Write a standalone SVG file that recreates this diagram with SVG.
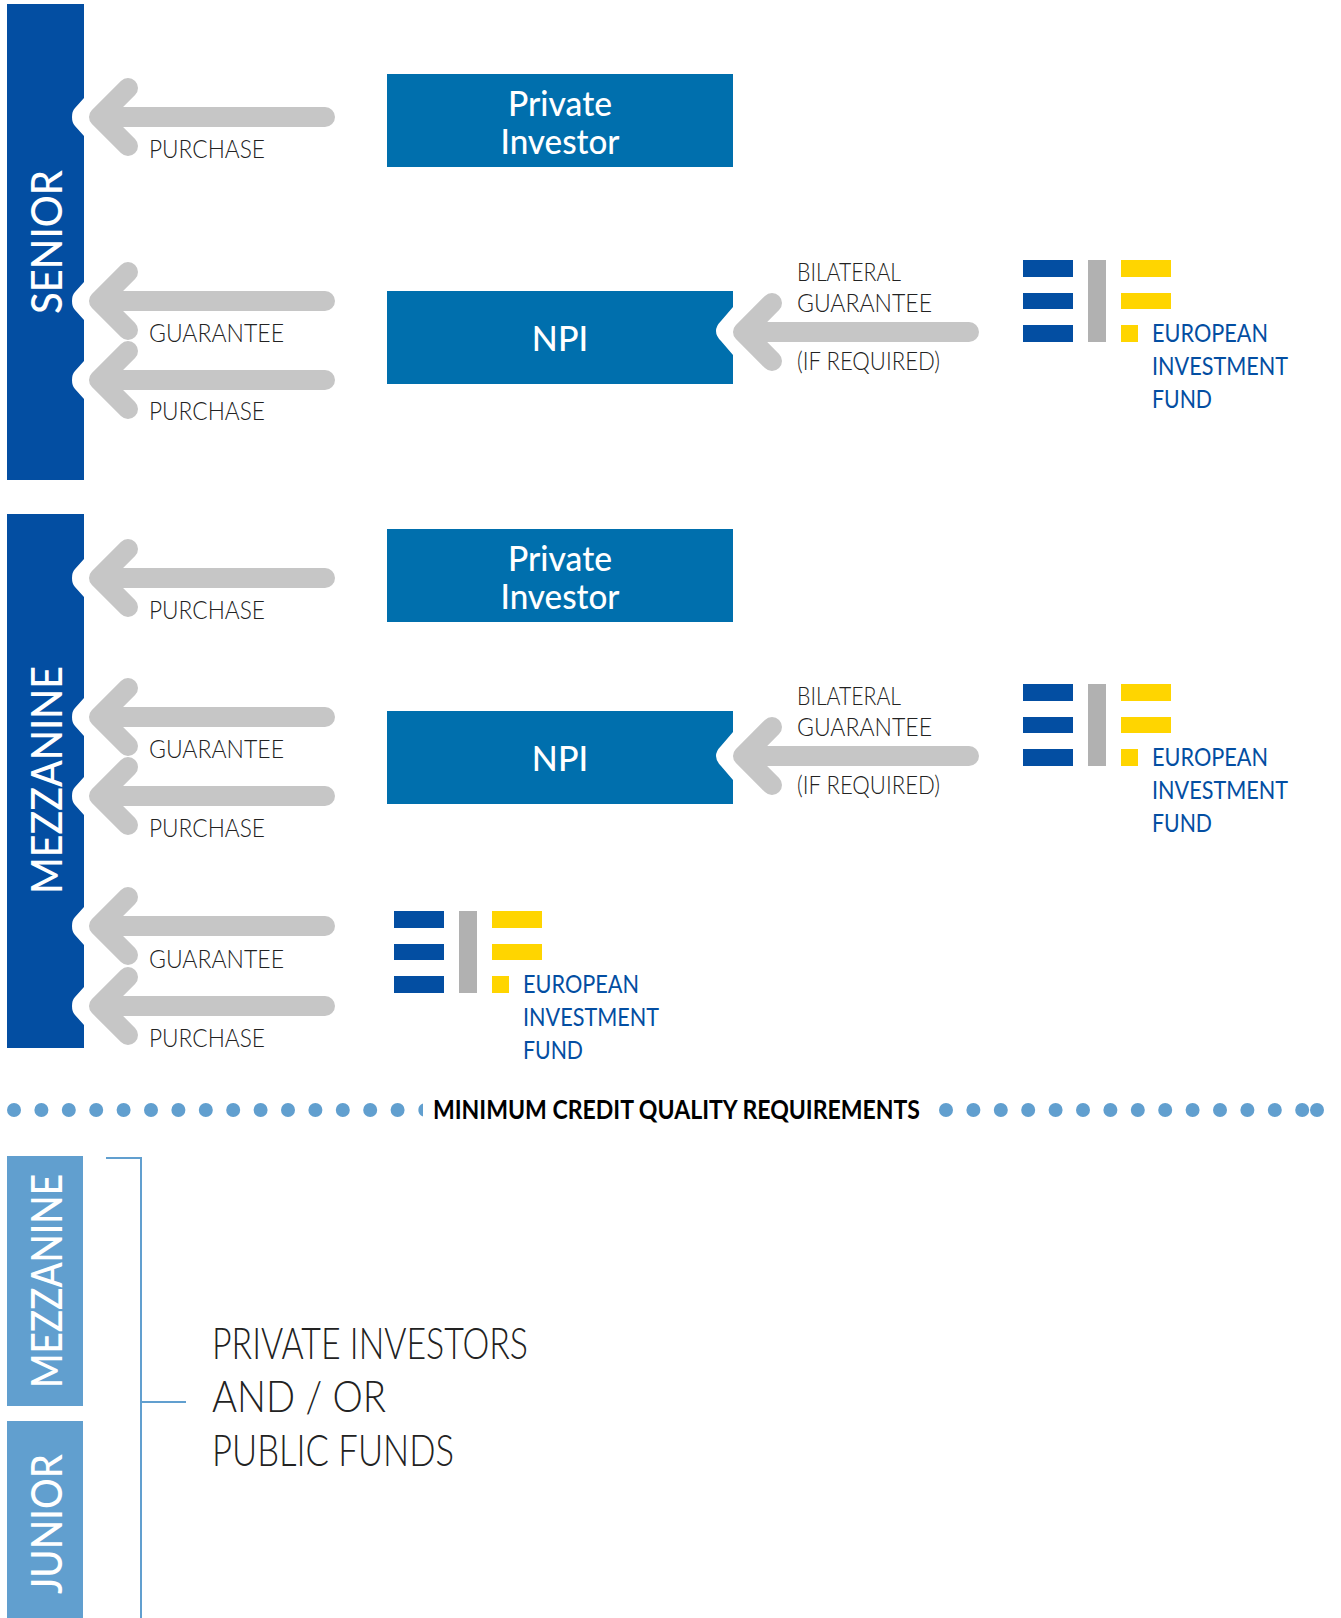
<svg xmlns="http://www.w3.org/2000/svg" width="1341" height="1618" viewBox="0 0 1341 1618">
<style>
text{font-family:"Lato","Liberation Sans",sans-serif}
.tier{fill:#034EA2}.tierl{fill:#619FCF}
.box{fill:#006FAD}
.side{fill:#fff;font-size:43px;font-weight:500}
.nt{fill:#fff;font-size:34px;font-weight:500;text-anchor:middle}
.lb{fill:#222;font-size:26px;font-weight:300}
.ef{fill:#034EA2;font-size:25px;font-weight:400}
.big{fill:#222;font-size:44px;font-weight:300}
.min{fill:#000;font-size:26px;font-weight:700}
.arr{fill:none;stroke:#C6C6C6;stroke-width:20;stroke-linecap:round;stroke-linejoin:round}
.notch{fill:#fff}
.dot{fill:#619FCF}
.br{fill:none;stroke:#619FCF;stroke-width:2}
.b{fill:#034EA2}.g{fill:#B1B1B1}.y{fill:#FFD500}
</style>
<defs>
<g id="arrow"><path class="arr" d="M325 0H99M128 -29L99 0L128 29"/></g>
<path id="n" d="M12 -19L3 -9Q0 -6 0 0Q0 6 3 9L12 19Z" class="notch"/>
<path id="nr" d="M17 -24L5 -10Q0 -5 0 0Q0 5 5 10L17 24Z" class="notch"/>
<g id="eif">
<rect class="b" x="0" y="0" width="50" height="17"/><rect class="b" x="0" y="33" width="50" height="16"/><rect class="b" x="0" y="65" width="50" height="17"/>
<rect class="g" x="65" y="0" width="18" height="82"/>
<rect class="y" x="98" y="0" width="50" height="17"/><rect class="y" x="98" y="33" width="50" height="16"/><rect class="y" x="98" y="65" width="17" height="17"/>
<text class="ef" x="129" y="82" textLength="116" lengthAdjust="spacingAndGlyphs">EUROPEAN</text>
<text class="ef" x="129" y="115" textLength="136" lengthAdjust="spacingAndGlyphs">INVESTMENT</text>
<text class="ef" x="129" y="148" textLength="60" lengthAdjust="spacingAndGlyphs">FUND</text>
</g>
</defs>
<rect width="1341" height="1618" fill="#fff"/>
<g id="senior"><rect class="tier" x="7" y="4" width="77" height="476"/>
<use href="#n" x="72" y="117"/><use href="#n" x="72" y="301"/><use href="#n" x="72" y="380"/>
<text class="side" transform="translate(62 314) rotate(-90)" textLength="144" lengthAdjust="spacingAndGlyphs">SENIOR</text></g>
<g id="mezzanine"><rect class="tier" x="7" y="514" width="77" height="534"/>
<use href="#n" x="72" y="578"/><use href="#n" x="72" y="717"/><use href="#n" x="72" y="796"/><use href="#n" x="72" y="926"/><use href="#n" x="72" y="1006"/>
<text class="side" transform="translate(62 894) rotate(-90)" textLength="228" lengthAdjust="spacingAndGlyphs">MEZZANINE</text></g>
<g id="pi1"><rect class="box" x="387" y="74" width="346" height="93"/><text class="nt" x="560" y="116" textLength="104" lengthAdjust="spacingAndGlyphs">Private</text><text class="nt" x="560" y="154" textLength="119" lengthAdjust="spacingAndGlyphs">Investor</text></g>
<g id="npi1"><rect class="box" x="387" y="291" width="346" height="93"/><use href="#nr" x="716" y="331"/><text class="nt" x="560" y="351">NPI</text></g>
<g id="pi2"><rect class="box" x="387" y="529" width="346" height="93"/><text class="nt" x="560" y="571" textLength="104" lengthAdjust="spacingAndGlyphs">Private</text><text class="nt" x="560" y="609" textLength="119" lengthAdjust="spacingAndGlyphs">Investor</text></g>
<g id="npi2"><rect class="box" x="387" y="711" width="346" height="93"/><use href="#nr" x="716" y="756"/><text class="nt" x="560" y="771">NPI</text></g>
<g id="connectors">
<use href="#arrow" y="117"/><use href="#arrow" y="301"/><use href="#arrow" y="380"/>
<use href="#arrow" y="578"/><use href="#arrow" y="717"/><use href="#arrow" y="796"/><use href="#arrow" y="926"/><use href="#arrow" y="1006"/>
<use href="#arrow" x="644" y="332"/><use href="#arrow" x="644" y="756"/>
</g>
<g id="labels">
<text class="lb" x="149" y="158" textLength="116" lengthAdjust="spacingAndGlyphs">PURCHASE</text>
<text class="lb" x="149" y="342" textLength="135" lengthAdjust="spacingAndGlyphs">GUARANTEE</text>
<text class="lb" x="149" y="420" textLength="116" lengthAdjust="spacingAndGlyphs">PURCHASE</text>
<text class="lb" x="149" y="619" textLength="116" lengthAdjust="spacingAndGlyphs">PURCHASE</text>
<text class="lb" x="149" y="758" textLength="135" lengthAdjust="spacingAndGlyphs">GUARANTEE</text>
<text class="lb" x="149" y="837" textLength="116" lengthAdjust="spacingAndGlyphs">PURCHASE</text>
<text class="lb" x="149" y="968" textLength="135" lengthAdjust="spacingAndGlyphs">GUARANTEE</text>
<text class="lb" x="149" y="1047" textLength="116" lengthAdjust="spacingAndGlyphs">PURCHASE</text>
<text class="lb" x="797" y="281" textLength="104" lengthAdjust="spacingAndGlyphs">BILATERAL</text>
<text class="lb" x="797" y="312" textLength="135" lengthAdjust="spacingAndGlyphs">GUARANTEE</text>
<text class="lb" x="797" y="370" textLength="143" lengthAdjust="spacingAndGlyphs">(IF REQUIRED)</text>
<text class="lb" x="797" y="705" textLength="104" lengthAdjust="spacingAndGlyphs">BILATERAL</text>
<text class="lb" x="797" y="736" textLength="135" lengthAdjust="spacingAndGlyphs">GUARANTEE</text>
<text class="lb" x="797" y="794" textLength="143" lengthAdjust="spacingAndGlyphs">(IF REQUIRED)</text>
</g>
<g id="eif1"><use href="#eif" x="1023" y="260"/></g>
<g id="eif2"><use href="#eif" x="1023" y="684"/></g>
<g id="eif3"><use href="#eif" x="394" y="911"/></g>
<g id="divider">
<g class="dot"><circle cx="14" cy="1110" r="7"/><circle cx="41.4" cy="1110" r="7"/><circle cx="68.8" cy="1110" r="7"/><circle cx="96.2" cy="1110" r="7"/><circle cx="123.6" cy="1110" r="7"/><circle cx="151" cy="1110" r="7"/><circle cx="178.4" cy="1110" r="7"/><circle cx="205.8" cy="1110" r="7"/><circle cx="233.2" cy="1110" r="7"/><circle cx="260.6" cy="1110" r="7"/><circle cx="288" cy="1110" r="7"/><circle cx="315.4" cy="1110" r="7"/><circle cx="342.8" cy="1110" r="7"/><circle cx="370.2" cy="1110" r="7"/><circle cx="397.6" cy="1110" r="7"/><path d="M423 1103.4A7 7 0 0 0 423 1116.6Z"/>
<circle cx="946" cy="1110" r="7"/><circle cx="973.4" cy="1110" r="7"/><circle cx="1000.8" cy="1110" r="7"/><circle cx="1028.2" cy="1110" r="7"/><circle cx="1055.6" cy="1110" r="7"/><circle cx="1083" cy="1110" r="7"/><circle cx="1110.4" cy="1110" r="7"/><circle cx="1137.8" cy="1110" r="7"/><circle cx="1165.2" cy="1110" r="7"/><circle cx="1192.6" cy="1110" r="7"/><circle cx="1220" cy="1110" r="7"/><circle cx="1247.4" cy="1110" r="7"/><circle cx="1274.8" cy="1110" r="7"/><circle cx="1302.2" cy="1110" r="7"/><circle cx="1317" cy="1110" r="7"/></g>
<text class="min" x="433" y="1119" textLength="487" lengthAdjust="spacingAndGlyphs">MINIMUM CREDIT QUALITY REQUIREMENTS</text>
</g>
<g id="mezz-light"><rect class="tierl" x="7" y="1156" width="76" height="250"/><text class="side" transform="translate(62 1388) rotate(-90)" textLength="214" lengthAdjust="spacingAndGlyphs">MEZZANINE</text></g>
<g id="junior-light"><rect class="tierl" x="7" y="1421" width="76" height="197"/><text class="side" transform="translate(62 1594) rotate(-90)" textLength="140" lengthAdjust="spacingAndGlyphs">JUNIOR</text></g>
<g id="bracket"><path class="br" d="M106 1158H141V1618M141 1402H186"/></g>
<g id="note"><text class="big" x="212" y="1359" textLength="316" lengthAdjust="spacingAndGlyphs">PRIVATE INVESTORS</text>
<text class="big" x="212" y="1412" textLength="174" lengthAdjust="spacingAndGlyphs">AND / OR</text>
<text class="big" x="212" y="1466" textLength="242" lengthAdjust="spacingAndGlyphs">PUBLIC FUNDS</text></g>
</svg>
